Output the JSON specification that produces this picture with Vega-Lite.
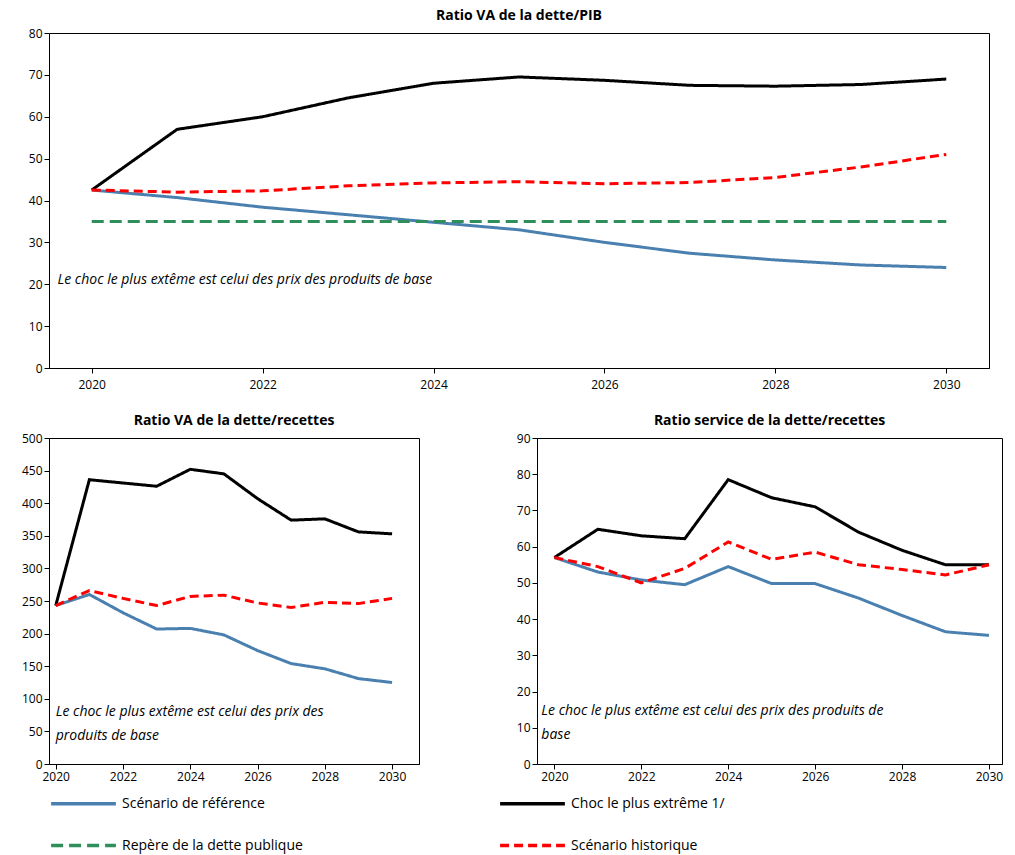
{
  "$schema": "https://vega.github.io/schema/vega-lite/v6.json",
  "background": "white",
  "padding": {"left": 20, "top": 8, "right": 8, "bottom": 2},
  "config": {
    "font": "Open Sans",
    "view": {"stroke": "black", "strokeWidth": 1},
    "axis": {"grid": false, "domainColor": "black", "tickColor": "black", "labelColor": "black", "labelFontSize": 12, "labelFont": "Open Sans", "title": null, "tickSize": 5},
    "title": {"fontSize": 14, "fontWeight": "bold", "font": "Open Sans", "offset": 4},
    "concat": {"spacing": 22},
    "legend": {"orient": "bottom", "columns": 2, "columnPadding": 190, "rowPadding": -40, "symbolType": "stroke", "symbolSize": 4200, "symbolStrokeWidth": 3.5, "labelFontSize": 14, "labelFont": "Open Sans", "labelColor": "black", "title": null, "offset": -14, "labelLimit": 400}
  },
  "data": {"values": [
    {"c":"a","s":"Scénario de référence","y":2020,"v":42.5},{"c":"a","s":"Scénario de référence","y":2021,"v":40.7},{"c":"a","s":"Scénario de référence","y":2022,"v":38.4},{"c":"a","s":"Scénario de référence","y":2023,"v":36.6},{"c":"a","s":"Scénario de référence","y":2024,"v":34.8},{"c":"a","s":"Scénario de référence","y":2025,"v":33},{"c":"a","s":"Scénario de référence","y":2026,"v":30},{"c":"a","s":"Scénario de référence","y":2027,"v":27.4},{"c":"a","s":"Scénario de référence","y":2028,"v":25.8},{"c":"a","s":"Scénario de référence","y":2029,"v":24.6},{"c":"a","s":"Scénario de référence","y":2030,"v":24},
    {"c":"a","s":"Choc le plus extrême 1/","y":2020,"v":42.5},{"c":"a","s":"Choc le plus extrême 1/","y":2021,"v":57},{"c":"a","s":"Choc le plus extrême 1/","y":2022,"v":60},{"c":"a","s":"Choc le plus extrême 1/","y":2023,"v":64.5},{"c":"a","s":"Choc le plus extrême 1/","y":2024,"v":68},{"c":"a","s":"Choc le plus extrême 1/","y":2025,"v":69.5},{"c":"a","s":"Choc le plus extrême 1/","y":2026,"v":68.7},{"c":"a","s":"Choc le plus extrême 1/","y":2027,"v":67.5},{"c":"a","s":"Choc le plus extrême 1/","y":2028,"v":67.3},{"c":"a","s":"Choc le plus extrême 1/","y":2029,"v":67.7},{"c":"a","s":"Choc le plus extrême 1/","y":2030,"v":69},
    {"c":"a","s":"Scénario historique","y":2020,"v":42.5},{"c":"a","s":"Scénario historique","y":2021,"v":42},{"c":"a","s":"Scénario historique","y":2022,"v":42.3},{"c":"a","s":"Scénario historique","y":2023,"v":43.5},{"c":"a","s":"Scénario historique","y":2024,"v":44.2},{"c":"a","s":"Scénario historique","y":2025,"v":44.5},{"c":"a","s":"Scénario historique","y":2026,"v":44},{"c":"a","s":"Scénario historique","y":2027,"v":44.3},{"c":"a","s":"Scénario historique","y":2028,"v":45.5},{"c":"a","s":"Scénario historique","y":2029,"v":48},{"c":"a","s":"Scénario historique","y":2030,"v":51},
    {"c":"a","s":"Repère de la dette publique","y":2020,"v":35},{"c":"a","s":"Repère de la dette publique","y":2030,"v":35},
    {"c":"b","s":"Scénario de référence","y":2020,"v":243},{"c":"b","s":"Scénario de référence","y":2021,"v":260},{"c":"b","s":"Scénario de référence","y":2022,"v":232},{"c":"b","s":"Scénario de référence","y":2023,"v":207},{"c":"b","s":"Scénario de référence","y":2024,"v":208},{"c":"b","s":"Scénario de référence","y":2025,"v":198},{"c":"b","s":"Scénario de référence","y":2026,"v":174},{"c":"b","s":"Scénario de référence","y":2027,"v":154},{"c":"b","s":"Scénario de référence","y":2028,"v":146},{"c":"b","s":"Scénario de référence","y":2029,"v":131},{"c":"b","s":"Scénario de référence","y":2030,"v":125},
    {"c":"b","s":"Choc le plus extrême 1/","y":2020,"v":243},{"c":"b","s":"Choc le plus extrême 1/","y":2021,"v":436},{"c":"b","s":"Choc le plus extrême 1/","y":2022,"v":431},{"c":"b","s":"Choc le plus extrême 1/","y":2023,"v":426},{"c":"b","s":"Choc le plus extrême 1/","y":2024,"v":452},{"c":"b","s":"Choc le plus extrême 1/","y":2025,"v":445},{"c":"b","s":"Choc le plus extrême 1/","y":2026,"v":407},{"c":"b","s":"Choc le plus extrême 1/","y":2027,"v":374},{"c":"b","s":"Choc le plus extrême 1/","y":2028,"v":376},{"c":"b","s":"Choc le plus extrême 1/","y":2029,"v":356},{"c":"b","s":"Choc le plus extrême 1/","y":2030,"v":353},
    {"c":"b","s":"Scénario historique","y":2020,"v":243},{"c":"b","s":"Scénario historique","y":2021,"v":266},{"c":"b","s":"Scénario historique","y":2022,"v":254},{"c":"b","s":"Scénario historique","y":2023,"v":243},{"c":"b","s":"Scénario historique","y":2024,"v":257},{"c":"b","s":"Scénario historique","y":2025,"v":259},{"c":"b","s":"Scénario historique","y":2026,"v":247},{"c":"b","s":"Scénario historique","y":2027,"v":240},{"c":"b","s":"Scénario historique","y":2028,"v":248},{"c":"b","s":"Scénario historique","y":2029,"v":246},{"c":"b","s":"Scénario historique","y":2030,"v":254},
    {"c":"d","s":"Scénario de référence","y":2020,"v":57},{"c":"d","s":"Scénario de référence","y":2021,"v":53},{"c":"d","s":"Scénario de référence","y":2022,"v":50.8},{"c":"d","s":"Scénario de référence","y":2023,"v":49.5},{"c":"d","s":"Scénario de référence","y":2024,"v":54.5},{"c":"d","s":"Scénario de référence","y":2025,"v":49.8},{"c":"d","s":"Scénario de référence","y":2026,"v":49.8},{"c":"d","s":"Scénario de référence","y":2027,"v":45.8},{"c":"d","s":"Scénario de référence","y":2028,"v":41},{"c":"d","s":"Scénario de référence","y":2029,"v":36.5},{"c":"d","s":"Scénario de référence","y":2030,"v":35.5},
    {"c":"d","s":"Choc le plus extrême 1/","y":2020,"v":57},{"c":"d","s":"Choc le plus extrême 1/","y":2021,"v":64.8},{"c":"d","s":"Choc le plus extrême 1/","y":2022,"v":63},{"c":"d","s":"Choc le plus extrême 1/","y":2023,"v":62.2},{"c":"d","s":"Choc le plus extrême 1/","y":2024,"v":78.5},{"c":"d","s":"Choc le plus extrême 1/","y":2025,"v":73.5},{"c":"d","s":"Choc le plus extrême 1/","y":2026,"v":71},{"c":"d","s":"Choc le plus extrême 1/","y":2027,"v":64},{"c":"d","s":"Choc le plus extrême 1/","y":2028,"v":59},{"c":"d","s":"Choc le plus extrême 1/","y":2029,"v":55},{"c":"d","s":"Choc le plus extrême 1/","y":2030,"v":55},
    {"c":"d","s":"Scénario historique","y":2020,"v":57},{"c":"d","s":"Scénario historique","y":2021,"v":54.5},{"c":"d","s":"Scénario historique","y":2022,"v":50},{"c":"d","s":"Scénario historique","y":2023,"v":54},{"c":"d","s":"Scénario historique","y":2024,"v":61.3},{"c":"d","s":"Scénario historique","y":2025,"v":56.5},{"c":"d","s":"Scénario historique","y":2026,"v":58.5},{"c":"d","s":"Scénario historique","y":2027,"v":55},{"c":"d","s":"Scénario historique","y":2028,"v":53.7},{"c":"d","s":"Scénario historique","y":2029,"v":52.2},{"c":"d","s":"Scénario historique","y":2030,"v":55}
  ]},
  "resolve": {"scale": {"color": "shared", "strokeDash": "shared"}},
  "vconcat": [
    {
      "title": "Ratio VA de la dette/PIB",
      "width": 940, "height": 335,
      "layer": [
        {
          "transform": [{"filter": "datum.c == 'a'"}],
          "mark": {"type": "line", "strokeWidth": 3},
          "encoding": {
            "x": {"field": "y", "type": "quantitative", "scale": {"domain": [2019.5, 2030.5], "nice": false}, "axis": {"values": [2020, 2022, 2024, 2026, 2028, 2030], "format": "d", "labelPadding": 6}},
            "y": {"field": "v", "type": "quantitative", "scale": {"domain": [0, 80]}, "axis": {"tickCount": 8}},
            "color": {"field": "s", "type": "nominal", "scale": {"domain": ["Scénario de référence", "Choc le plus extrême 1/", "Repère de la dette publique", "Scénario historique"], "range": ["#4a80b0", "#000000", "#2f8f5a", "#ff0000"]}},
            "strokeDash": {"field": "s", "type": "nominal", "scale": {"domain": ["Scénario de référence", "Choc le plus extrême 1/", "Repère de la dette publique", "Scénario historique"], "range": [[1, 0], [1, 0], [12, 6], [9, 5]]}}
          }
        },
        {
          "data": {"values": [{"t": "Le choc le plus extême est celui des prix des produits de base"}]},
          "mark": {"type": "text", "align": "left", "fontStyle": "italic", "fontSize": 14, "font": "Open Sans"},
          "encoding": {"x": {"datum": 2019.6}, "y": {"datum": 21}, "text": {"field": "t"}}
        }
      ]
    },
    {
      "spacing": 95,
      "hconcat": [
        {
          "title": "Ratio VA de la dette/recettes",
          "width": 370, "height": 326,
          "layer": [
            {
              "transform": [{"filter": "datum.c == 'b'"}],
              "mark": {"type": "line", "strokeWidth": 3},
              "encoding": {
                "x": {"field": "y", "type": "quantitative", "scale": {"domain": [2019.8, 2030.8], "nice": false}, "axis": {"values": [2020, 2022, 2024, 2026, 2028, 2030], "format": "d"}},
                "y": {"field": "v", "type": "quantitative", "scale": {"domain": [0, 500]}, "axis": {"tickCount": 10}},
                "color": {"field": "s", "type": "nominal"},
                "strokeDash": {"field": "s", "type": "nominal"}
              }
            },
            {
              "data": {"values": [{"t": ["Le choc le plus extême est celui des prix des", "produits de base"]}]},
              "mark": {"type": "text", "align": "left", "fontStyle": "italic", "fontSize": 14, "font": "Open Sans", "lineHeight": 24},
              "encoding": {"x": {"datum": 2020}, "y": {"datum": 80}, "text": {"field": "t"}}
            }
          ]
        },
        {
          "title": "Ratio service de la dette/recettes",
          "width": 465, "height": 326,
          "layer": [
            {
              "transform": [{"filter": "datum.c == 'd'"}],
              "mark": {"type": "line", "strokeWidth": 3},
              "encoding": {
                "x": {"field": "y", "type": "quantitative", "scale": {"domain": [2019.6, 2030.3], "nice": false}, "axis": {"values": [2020, 2022, 2024, 2026, 2028, 2030], "format": "d"}},
                "y": {"field": "v", "type": "quantitative", "scale": {"domain": [0, 90]}, "axis": {"tickCount": 9}},
                "color": {"field": "s", "type": "nominal"},
                "strokeDash": {"field": "s", "type": "nominal"}
              }
            },
            {
              "data": {"values": [{"t": ["Le choc le plus extême est celui des prix des produits de", "base"]}]},
              "mark": {"type": "text", "align": "left", "fontStyle": "italic", "fontSize": 14, "font": "Open Sans", "lineHeight": 24},
              "encoding": {"x": {"datum": 2019.7}, "y": {"datum": 14.5}, "text": {"field": "t"}}
            }
          ]
        }
      ]
    }
  ]
}
